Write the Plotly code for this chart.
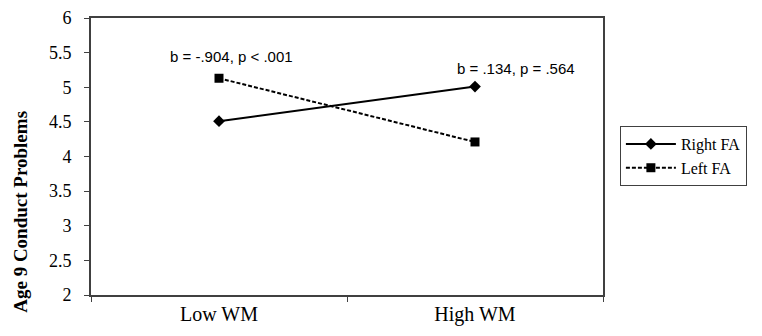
import plotly.graph_objects as go

categories = ["Low WM", "High WM"]
right_fa = [4.51, 5.01]
left_fa = [5.13, 4.21]
annot_text = ["b = -.904, p < .001", "b = .134, p = .564"]
annot_y = [5.45, 5.27]
annot_x = [0.05, 1.16]
y_ticks = [2, 2.5, 3, 3.5, 4, 4.5, 5, 5.5, 6]
y_title = "Age 9 Conduct Problems"

axis_col = "#404040"
serif = "Liberation Serif, Times New Roman, serif"

fig = go.Figure()
fig.add_trace(go.Scatter(
    x=categories, y=right_fa, name="Right FA", mode="lines+markers",
    line=dict(color="black", width=2),
    marker=dict(symbol="diamond", size=9, color="black"),
))
fig.add_trace(go.Scatter(
    x=categories, y=left_fa, name="Left FA", mode="lines+markers",
    line=dict(color="black", width=2, dash="4px,2px"),
    marker=dict(symbol="square", size=9, color="black"),
))
for t, xx, yy in zip(annot_text, annot_x, annot_y):
    fig.add_annotation(x=xx, y=yy, xref="x", yref="y", text=t, showarrow=False,
                       font=dict(family="Liberation Sans, Arial, sans-serif", size=15, color="black"))

fig.add_annotation(x=-0.137, y=0.30, xref="paper", yref="paper", text=f"<b>{y_title}</b>",
                   textangle=-90, showarrow=False, xanchor="center", yanchor="middle",
                   font=dict(family=serif, size=19, color="black"))

fig.update_layout(
    width=762, height=336,
    margin=dict(l=83, r=167, t=10, b=49, autoexpand=False),
    plot_bgcolor="white", paper_bgcolor="white",
    showlegend=True,
    legend=dict(x=1.033, y=0.61, xanchor="left", yanchor="top",
                bordercolor=axis_col, borderwidth=1,
                font=dict(family=serif, size=16, color="black"),
                tracegroupgap=0, itemwidth=50),
    xaxis=dict(type="category", range=[-0.5, 1.5], showline=True, linecolor=axis_col,
               linewidth=2, mirror=True, ticks="outside", tickson="boundaries",
               ticklen=5, tickcolor=axis_col, showgrid=False,
               ticklabeloverflow="allow",
               tickfont=dict(family=serif, size=20, color="black")),
    yaxis=dict(range=[2, 6], tickvals=y_ticks, ticktext=[f"{v:g}" for v in y_ticks],
               showline=True, linecolor=axis_col, linewidth=2, mirror=True,
               ticks="outside", ticklen=5, tickcolor=axis_col, showgrid=False, zeroline=False,
               ticklabelstandoff=9, ticklabeloverflow="allow",
               tickfont=dict(family=serif, size=18, color="black")),
)

fig.write_html("out.html")
